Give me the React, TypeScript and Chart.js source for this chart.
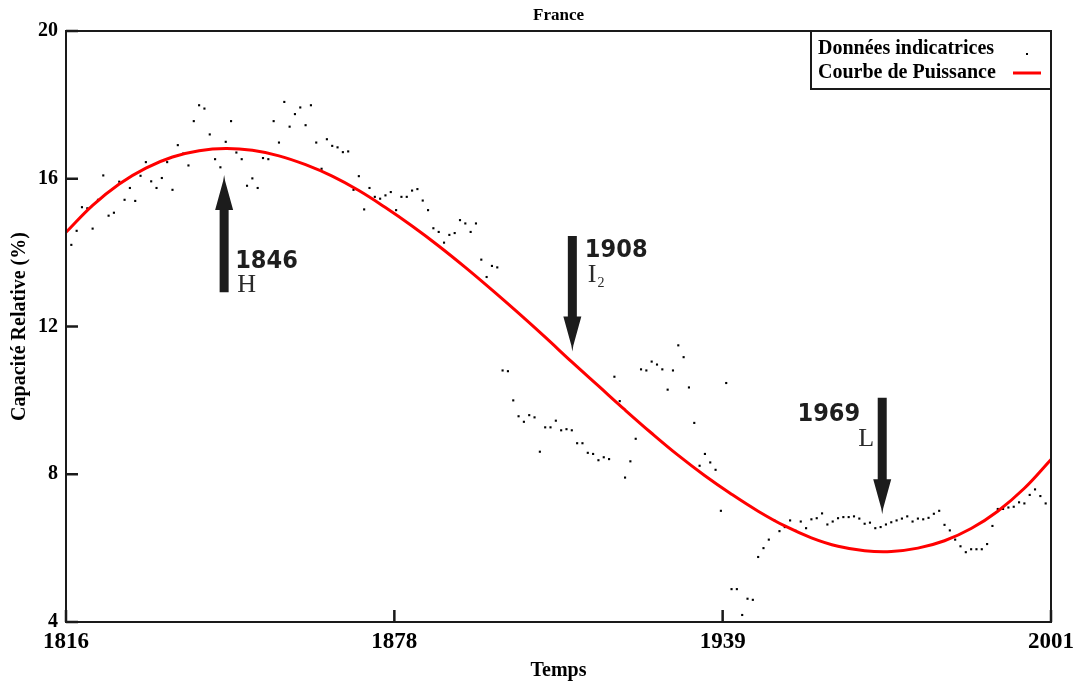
import React, { useEffect, useRef } from 'react';
import { Chart, registerables } from 'chart.js';

Chart.register(...registerables);

// ---------------- DATA ----------------
const chartTitle = 'France';
const xAxisTitle = 'Temps';
const yAxisTitle = 'Capacité Relative (%)';
const legendLabels = ['Données indicatrices', 'Courbe de Puissance'];

// yearly indicator values, 1817 .. 2000
const indicatorFirstYear = 1817;
const indicatorValues = [
  14.21, 14.59, 15.23, 15.20, 14.65, 15.43, 16.09, 15.00, 15.08, 15.92, // 1817-1826
  15.43, 15.75, 15.40, 16.08, 16.45, 15.93, 15.75, 16.02, 16.45, 15.70, // 1827-1836
  16.91, 16.68, 16.36, 17.56, 17.99, 17.90, 17.20, 16.53, 16.31, 17.00, // 1837-1846
  17.56, 16.71, 16.53, 15.81, 16.01, 15.75, 16.56, 16.53, 17.56, 16.98, // 1847-1856
  18.08, 17.41, 17.75, 17.93, 17.45, 17.99, 16.98, 16.27, 17.07, 16.89, // 1857-1866
  16.85, 16.72, 16.74, 15.70, 16.07, 15.17, 15.75, 15.51, 15.46, 15.55, // 1867-1876
  15.64, 15.15, 15.51, 15.51, 15.68, 15.72, 15.41, 15.15, 14.66, 14.56, // 1877-1886
  14.27, 14.48, 14.53, 14.88, 14.79, 14.56, 14.79, 13.81, 13.34, 13.64, // 1887-1896
  13.60, 10.81, 10.79, 10.00, 9.57, 9.42, 9.60, 9.54, 8.61, 9.27,       // 1897-1906
  9.27, 9.45, 9.19, 9.22, 9.19, 8.84, 8.84, 8.58, 8.55, 8.38,           // 1907-1916
  8.46, 8.41, 10.64, 9.98, 7.91, 8.35, 8.96, 10.84, 10.81, 11.05,       // 1917-1926
  10.97, 10.84, 10.29, 10.81, 11.49, 11.17, 10.35, 9.39, 8.23, 8.55,    // 1927-1936
  8.32, 8.12, 7.01, 10.47, 4.89, 4.89, 4.19, 4.63, 4.60, 5.76,          // 1937-1946
  6.00, 6.23, 6.76, 6.46, 6.57, 6.75, 6.47, 6.72, 6.54, 6.78,           // 1947-1956
  6.81, 6.94, 6.64, 6.72, 6.81, 6.84, 6.84, 6.86, 6.80, 6.66,           // 1957-1966
  6.69, 6.54, 6.57, 6.64, 6.70, 6.75, 6.80, 6.86, 6.72, 6.80,           // 1967-1976
  6.78, 6.82, 6.93, 7.01, 6.63, 6.48, 6.23, 6.05, 5.89, 5.97,           // 1977-1986
  5.97, 5.97, 6.11, 6.60, 7.06, 7.06, 7.10, 7.12, 7.24, 7.21,           // 1987-1996
  7.44, 7.59, 7.41, 7.21,                                               // 1997-2000
];

// power curve
const curveYears = [
  1816, 1821, 1826, 1831, 1836, 1841, 1846, 1851, 1856, 1861, 1866, 1871, 1876,
  1881, 1886, 1891, 1896, 1901, 1906, 1911, 1916, 1921, 1926, 1931, 1936, 1941,
  1946, 1951, 1956, 1961, 1966, 1971, 1976, 1981, 1986, 1991, 1996, 2001,
];
const curveValues = [
  14.55, 15.28, 15.86, 16.29, 16.59, 16.76, 16.82, 16.77, 16.62, 16.38, 16.07, 15.68, 15.22,
  14.72, 14.18, 13.60, 12.99, 12.36, 11.71, 11.04, 10.39, 9.74, 9.11, 8.51, 7.96, 7.46,
  7.00, 6.60, 6.28, 6.05, 5.93, 5.91, 6.00, 6.20, 6.53, 7.00, 7.62, 8.40,
];

const xMin = 1816;
const xMax = 2001;
const xTickValues = [1816, 1877.67, 1939.33, 2001];
const xTickLabels = ['1816', '1878', '1939', '2001'];
const yMin = 4;
const yMax = 20;
const yTickValues = [4, 8, 12, 16, 20];

// arrow annotations: year position, tail value, tip value
const markLabels = ['1846', '1908', '1969'];
const markSubs = ['H', 'I', 'L'];
const markSubIndex = ['', '2', ''];
const markYears = [1845.7, 1911.1, 1969.3];
const markTails = [12.93, 14.45, 10.07];
const markTips = [16.1, 11.32, 6.92];

// ---------------- STYLE ----------------
const SERIF = '"Liberation Serif", "Times New Roman", serif';
const SANS = '"DejaVu Sans", Verdana, sans-serif';
const RED = '#ff0000';

// label layout per mark (pixel offsets relative to arrow x / tail y)
const markLayout = [
  { numDx: 11, numDy: -24, numAlign: 'left', subDx: 13, subDy: 0 },
  { numDx: 12.5, numDy: 21, numAlign: 'left', subDx: 15.5, subDy: 46 },
  { numDx: -22, numDy: 23, numAlign: 'right', subDx: -24, subDy: 48 },
];

const decorPlugin = {
  id: 'decor',
  afterDatasetsDraw(chart: any) {
    const { ctx, chartArea, scales } = chart;
    const { left, right, top, bottom } = chartArea;
    const xs = scales.x;
    const ys = scales.y;
    ctx.save();

    // frame
    ctx.strokeStyle = '#1a1a1a';
    ctx.lineWidth = 2;
    ctx.strokeRect(left, top, right - left, bottom - top);

    // inward ticks
    ctx.lineWidth = 2.5;
    ctx.beginPath();
    yTickValues.forEach((v) => {
      const y = ys.getPixelForValue(v);
      ctx.moveTo(left, y);
      ctx.lineTo(left + 12, y);
    });
    xTickValues.forEach((v) => {
      const x = xs.getPixelForValue(v);
      ctx.moveTo(x, bottom);
      ctx.lineTo(x, bottom - 12);
    });
    ctx.stroke();

    // title
    ctx.fillStyle = '#000';
    ctx.font = `bold 17px ${SERIF}`;
    ctx.textAlign = 'center';
    ctx.textBaseline = 'middle';
    ctx.fillText(chartTitle, (left + right) / 2, 16);

    // axis titles
    ctx.font = `bold 20px ${SERIF}`;
    ctx.fillText(xAxisTitle, (left + right) / 2, 671);
    ctx.save();
    ctx.translate(20, (top + bottom) / 2);
    ctx.rotate(-Math.PI / 2);
    ctx.fillText(yAxisTitle, 0, 0);
    ctx.restore();

    // legend box
    const lx = 811;
    const ly = top;
    const lw = right - lx;
    const lh = 58;
    ctx.fillStyle = '#fff';
    ctx.fillRect(lx, ly, lw, lh);
    ctx.strokeStyle = '#1a1a1a';
    ctx.lineWidth = 2;
    ctx.strokeRect(lx, ly, lw, lh);
    ctx.fillStyle = '#000';
    ctx.font = `bold 20px ${SERIF}`;
    ctx.textAlign = 'left';
    ctx.textBaseline = 'alphabetic';
    ctx.fillText(legendLabels[0], 818, ly + 23);
    ctx.fillText(legendLabels[1], 818, ly + 47);
    ctx.fillRect(1026, ly + 22, 2, 2);
    ctx.strokeStyle = RED;
    ctx.lineWidth = 3;
    ctx.beginPath();
    ctx.moveTo(1013, ly + 42);
    ctx.lineTo(1041, ly + 42);
    ctx.stroke();

    // arrows
    markYears.forEach((yr, i) => {
      const x = xs.getPixelForValue(yr);
      const yTail = ys.getPixelForValue(markTails[i]);
      const yTip = ys.getPixelForValue(markTips[i]);
      const dir = yTip < yTail ? -1 : 1;
      const shaft = 4.5;
      const head = 9;
      const headLen = 35;
      const yBase = yTip - dir * headLen;
      ctx.fillStyle = '#1c1c1c';
      ctx.beginPath();
      ctx.moveTo(x - shaft, yTail);
      ctx.lineTo(x - shaft, yBase);
      ctx.lineTo(x - head, yBase);
      ctx.lineTo(x - 1, yTip - dir * 6);
      ctx.lineTo(x, yTip);
      ctx.lineTo(x + 1, yTip - dir * 6);
      ctx.lineTo(x + head, yBase);
      ctx.lineTo(x + shaft, yBase);
      ctx.lineTo(x + shaft, yTail);
      ctx.closePath();
      ctx.fill();

      const lay = markLayout[i];
      // number label
      ctx.save();
      ctx.font = `bold 24.5px ${SANS}`;
      ctx.fillStyle = '#1e1e1e';
      ctx.textBaseline = 'alphabetic';
      const nx = x + lay.numDx;
      const ny = yTail + lay.numDy;
      ctx.translate(nx, ny);
      ctx.scale(0.92, 1);
      ctx.textAlign = lay.numAlign as CanvasTextAlign;
      ctx.fillText(markLabels[i], 0, 0);
      ctx.restore();

      // letter label
      ctx.font = `26px ${SERIF}`;
      ctx.fillStyle = '#2a2a2a';
      ctx.textAlign = 'left';
      ctx.textBaseline = 'alphabetic';
      const sx = x + lay.subDx;
      const sy = yTail + lay.subDy;
      ctx.fillText(markSubs[i], sx, sy);
      if (markSubIndex[i]) {
        const w = ctx.measureText(markSubs[i]).width;
        ctx.font = `14px ${SERIF}`;
        ctx.fillText(markSubIndex[i], sx + w + 1, sy + 5);
      }
    });

    ctx.restore();
  },
};

export default function App() {
  const canvasRef = useRef<HTMLCanvasElement | null>(null);

  useEffect(() => {
    const canvas = canvasRef.current;
    if (!canvas) return;
    const dots = indicatorValues.map((v, i) => ({ x: indicatorFirstYear + i, y: v }));
    const curve = curveYears.map((yr, i) => ({ x: yr, y: curveValues[i] }));

    const chart = new Chart(canvas, {
      type: 'scatter',
      data: {
        datasets: [
          {
            label: legendLabels[0],
            data: dots,
            showLine: false,
            pointStyle: 'rect',
            pointRadius: 1.5,
            pointBorderWidth: 0,
            pointBackgroundColor: '#000',
            pointBorderColor: '#000',
            order: 2,
          },
          {
            label: legendLabels[1],
            data: curve,
            showLine: true,
            borderColor: RED,
            borderWidth: 3,
            pointRadius: 0,
            tension: 0.4,
            fill: false,
            order: 1,
          } as any,
        ],
      },
      options: {
        responsive: false,
        animation: false,
        devicePixelRatio: 1,
        layout: { padding: { left: 0, right: 33, top: 31, bottom: 0 } },
        plugins: {
          legend: { display: false },
          title: { display: false },
          tooltip: { enabled: false },
        },
        scales: {
          x: {
            type: 'linear',
            min: xMin,
            max: xMax,
            afterFit: (s: any) => {
              s.height = 65;
            },
            afterBuildTicks: (s: any) => {
              s.ticks = xTickValues.map((v) => ({ value: v }));
            },
            ticks: {
              autoSkip: false,
              maxRotation: 0,
              minRotation: 0,
              padding: 6,
              color: '#000',
              font: { family: SERIF, size: 23, weight: 'bold' },
              callback: (_v: any, i: number) => xTickLabels[i],
            },
            grid: { display: false, drawTicks: false },
            border: { display: false },
          },
          y: {
            type: 'linear',
            min: yMin,
            max: yMax,
            afterFit: (s: any) => {
              s.width = 66;
            },
            afterBuildTicks: (s: any) => {
              s.ticks = yTickValues.map((v) => ({ value: v }));
            },
            ticks: {
              padding: 8,
              color: '#000',
              font: { family: SERIF, size: 20, weight: 'bold' },
              callback: (v: any) => String(v),
            },
            grid: { display: false, drawTicks: false },
            border: { display: false },
          },
        },
      } as any,
      plugins: [decorPlugin],
    });
    return () => chart.destroy();
  }, []);

  return (
    <div style={{ position: 'absolute', left: 0, top: 0, width: 1084, height: 687, background: '#fff' }}>
      <canvas ref={canvasRef} width={1084} height={687} />
    </div>
  );
}
